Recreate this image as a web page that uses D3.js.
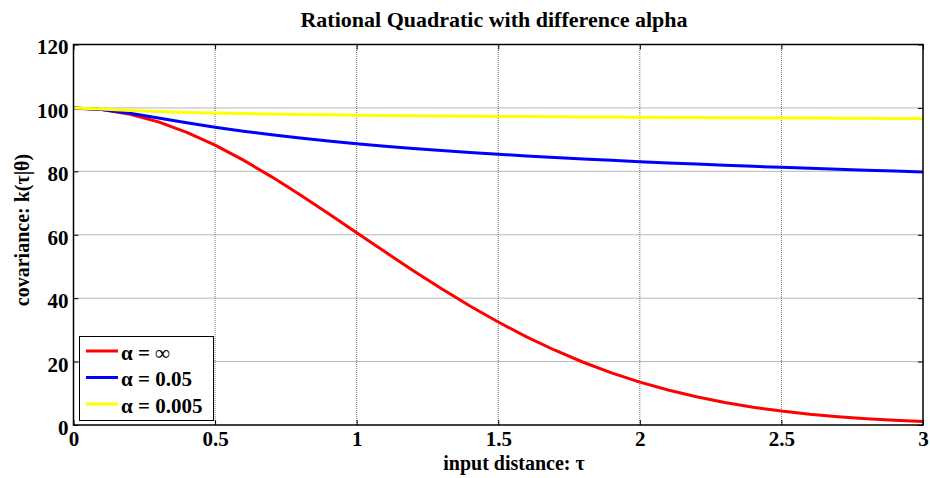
<!DOCTYPE html>
<html><head><meta charset="utf-8">
<script src="https://cdn.jsdelivr.net/npm/d3@7"></script>
<style>body{margin:0;background:#fff}svg{display:block}text{font-family:"Liberation Serif","Times New Roman",serif;font-weight:bold;fill:#000}</style>
</head><body>
<script>
const tau = [0,0.1,0.2,0.3,0.4,0.5,0.6,0.7,0.8,0.9,1.0,1.1,1.2,1.3,1.4,1.5,1.6,1.7,1.8,1.9,2.0,2.1,2.2,2.3,2.4,2.5,2.6,2.7,2.8,2.9,3.0];
const alphaInf = [100,99.50,98.02,95.60,92.31,88.25,83.53,78.26,72.61,66.69,60.65,54.61,48.68,42.95,37.53,32.47,27.80,23.58,19.79,16.44,13.53,11.03,8.89,7.10,5.61,4.39,3.40,2.61,1.98,1.49,1.11];
const alpha005 = [100,99.52,98.33,96.84,95.33,93.93,92.65,91.51,90.48,89.55,88.70,87.93,87.22,86.57,85.96,85.40,84.87,84.38,83.91,83.47,83.05,82.66,82.28,81.93,81.58,81.26,80.94,80.64,80.36,80.07,79.81];
const alpha0005 = [100,99.65,99.20,98.86,98.59,98.38,98.21,98.06,97.93,97.82,97.72,97.63,97.54,97.46,97.39,97.33,97.26,97.20,97.15,97.10,97.05,97.00,96.96,96.91,96.87,96.83,96.79,96.76,96.72,96.69,96.66];
const seriesNames = ["α = ∞","α = 0.05","α = 0.005"];
const seriesColors = ["#ff0000","#0000ff","#ffff00"];
const xTicks = [0,0.5,1,1.5,2,2.5,3];
const xTickLabels = ["0","0.5","1","1.5","2","2.5","3"];
const yTicks = [0,20,40,60,80,100,120];
const yTickLabels = ["0","20","40","60","80","100","120"];
const title = "Rational Quadratic with difference alpha";
const xLabel = "input distance: τ";
const yLabel = "covariance: k(τ|θ)";

const W = 930, H = 478;
const m = {left:73.5, right:W-923, top:44.5, bottom:H-425};
const svg = d3.select("body").append("svg").attr("width",W).attr("height",H);
const x = d3.scaleLinear().domain([0,3]).range([m.left, W-m.right]);
const y = d3.scaleLinear().domain([0,120]).range([H-m.bottom, m.top]);

// grid
const g = svg.append("g");
g.selectAll(".gx").data(xTicks.slice(1,-1)).join("line")
  .attr("x1",d=>x(d)).attr("x2",d=>x(d)).attr("y1",y(0)).attr("y2",y(120))
  .attr("stroke","#707070").attr("stroke-width",1).attr("stroke-dasharray","1 1");
g.selectAll(".gy").data(yTicks.slice(1,-1)).join("line")
  .attr("y1",d=>y(d)).attr("y2",d=>y(d)).attr("x1",x(0)).attr("x2",x(3))
  .attr("stroke","#707070").attr("stroke-width",1).attr("stroke-dasharray","1 1");

// axes
const fs = "21px";
const xAxis = d3.axisBottom(x).tickValues(xTicks).tickFormat((d,i)=>xTickLabels[i]).tickSizeInner(-5).tickSizeOuter(0).tickPadding(6);
const yAxis = d3.axisLeft(y).tickValues(yTicks).tickFormat((d,i)=>yTickLabels[i]).tickSizeInner(-5).tickSizeOuter(0).tickPadding(5);
const xTop = d3.axisTop(x).tickValues(xTicks).tickFormat("").tickSizeInner(-5).tickSizeOuter(0);
const yRight = d3.axisRight(y).tickValues(yTicks).tickFormat("").tickSizeInner(-5).tickSizeOuter(0);
[[xAxis,`translate(0,${y(0)})`],[yAxis,`translate(${x(0)},0)`],[xTop,`translate(0,${y(120)})`],[yRight,`translate(${x(3)},0)`]].forEach(([ax,tr],k)=>{
  const a = svg.append("g").attr("transform",tr).call(ax);
  a.select(".domain").remove();
  a.selectAll("line").attr("stroke","#000");
  a.selectAll("text").style("font-size",fs).style("font-family",'"Liberation Serif",serif').style("font-weight","bold").attr("fill","#000");
  if (k===1) a.selectAll("text").attr("dy","0.45em");
});

// lines
const line = d3.line().x((d,i)=>x(tau[i])).y(d=>y(d));
const series = [alphaInf, alpha005, alpha0005];
svg.append("g").selectAll("path").data(series).join("path")
  .attr("d",line).attr("fill","none").attr("stroke",(d,i)=>seriesColors[i]).attr("stroke-width",3)
  .attr("stroke-linejoin","round");

// box
svg.append("rect").attr("x",x(0)).attr("y",y(120)).attr("width",x(3)-x(0)).attr("height",y(0)-y(120))
  .attr("fill","none").attr("stroke","#000").attr("stroke-width",1.5);

// legend
const lg = svg.append("g");
lg.append("rect").attr("x",79.5).attr("y",336.5).attr("width",134).attr("height",84).attr("fill","#fff").attr("stroke","#000").attr("stroke-width",1);
seriesNames.forEach((n,i)=>{
  const ly = 351 + i*26.5;
  lg.append("line").attr("x1",86).attr("x2",118).attr("y1",ly).attr("y2",ly).attr("stroke",seriesColors[i]).attr("stroke-width",3);
  lg.append("text").attr("x",121).attr("y",ly+8.5).style("font-size",fs).text(n);
});

// title and labels
svg.append("text").attr("x",494).attr("y",27).attr("text-anchor","middle").style("font-size","22px").text(title);
svg.append("text").attr("x",514).attr("y",470).attr("text-anchor","middle").style("font-size","20px").text(xLabel);
svg.append("text").attr("transform",`translate(29,230) rotate(-90)`).attr("text-anchor","middle").style("font-size","20px").text(yLabel);
</script>
</body></html>
